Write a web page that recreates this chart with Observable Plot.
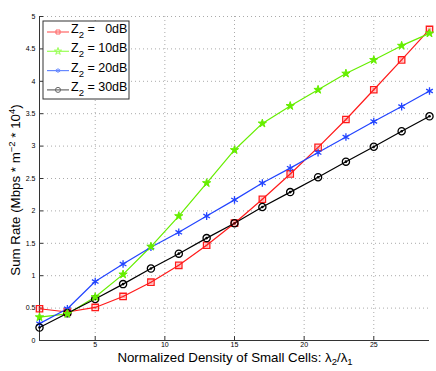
<!DOCTYPE html>
<html><head><meta charset="utf-8">
<script src="https://cdn.jsdelivr.net/npm/d3@7"></script>
<script src="https://cdn.jsdelivr.net/npm/@observablehq/plot@0.6"></script>
<style>body{margin:0;background:#fff}</style>
</head><body><div id="chart"></div>
<script>
const density = [1,3,5,7,9,11,13,15,17,19,21,23,25,27,29];
const z0dB  = [0.49,0.44,0.51,0.68,0.90,1.16,1.47,1.81,2.18,2.57,2.98,3.41,3.87,4.33,4.80];
const z10dB = [0.36,0.41,0.67,1.02,1.45,1.92,2.43,2.94,3.35,3.62,3.87,4.12,4.33,4.55,4.74];
const z20dB = [0.26,0.49,0.91,1.18,1.44,1.67,1.92,2.17,2.43,2.66,2.90,3.14,3.38,3.61,3.85];
const z30dB = [0.20,0.42,0.64,0.87,1.11,1.34,1.58,1.81,2.06,2.29,2.52,2.76,2.99,3.23,3.46];
const seriesNames = ["0dB","10dB","20dB","30dB"];
const seriesLabels = ["  0dB","10dB","20dB","30dB"];
const xTicks = [5,10,15,20,25];
const yTicks = [0,0.5,1,1.5,2,2.5,3,3.5,4,4.5,5];

const colors = ["#ff1a1a","#66ee00","#2244ff","#000000"];
const symbols = ["square","star","asterisk","circle"];
const all = [z0dB,z10dB,z20dB,z30dB];
const data = [];
all.forEach((arr,i)=>arr.forEach((v,j)=>data.push({s:seriesNames[i],x:density[j],y:v})));

const W=436,H=371,mL=39,mR=7,mT=16,mB=31;
const plot = Plot.plot({
  width:W,height:H,marginLeft:mL,marginRight:mR,marginTop:mT,marginBottom:mB,
  style:{fontFamily:"Liberation Sans, Arial, sans-serif",fontSize:"7px",background:"#fff"},
  x:{domain:[1,29],label:null},
  y:{domain:[0,5],label:null},
  color:{domain:seriesNames,range:colors},
  symbol:{domain:seriesNames,range:symbols},
  marks:[
    Plot.gridX(xTicks,{stroke:"#aaa",strokeOpacity:1,strokeDasharray:"1,3"}),
    Plot.gridY(yTicks.filter(d=>d>0),{stroke:"#aaa",strokeOpacity:1,strokeDasharray:"1,3"}),
    Plot.axisX({ticks:xTicks,tickSize:0,tickPadding:2,label:null}),
    Plot.axisY({ticks:yTicks,tickSize:0,tickPadding:4,label:null,tickFormat:d=>String(d)}),
    Plot.ruleX(xTicks,{x:d=>d,y1:0,y2:0.06,stroke:"#333"}),
    Plot.ruleY(yTicks,{y:d=>d,x1:1,x2:1.3,stroke:"#333"}),
    Plot.ruleY([0],{stroke:"#333"}),
    Plot.ruleX([1],{stroke:"#333"}),
    Plot.line(data,{x:"x",y:"y",z:"s",stroke:"s",strokeWidth:1.2}),
    Plot.dot(data.filter(d=>d.s!=="10dB"),{x:"x",y:"y",stroke:"s",symbol:"s",r:3.6,strokeWidth:1.3,fill:"none"}),
    Plot.dot(data.filter(d=>d.s==="30dB"),{x:"x",y:"y",r:1.3,fill:"#000"}),
    Plot.dot(data.filter(d=>d.s==="0dB"),{x:"x",y:"y",symbol:"square",r:2.2,fill:"#ff1a1a",fillOpacity:0.35}),
    Plot.dot(data.filter(d=>d.s==="10dB"),{x:"x",y:"y",symbol:"star",r:2.6,fill:"#66ee00",stroke:"#66ee00",strokeWidth:1})
  ]
});
document.getElementById("chart").appendChild(plot);

const svg = d3.select(plot);
const font = "Liberation Sans, Arial, sans-serif";
// y label
const yl = svg.append("text").attr("transform",`translate(20,190) rotate(-90)`)
  .attr("text-anchor","middle").attr("font-family",font).attr("font-size",13.3).attr("fill","#000");
yl.append("tspan").text("Sum Rate (Mbps * m");
yl.append("tspan").attr("dy",-5).attr("font-size",9.5).text("−2");
yl.append("tspan").attr("dy",5).text(" * 10");
yl.append("tspan").attr("dy",-5).attr("font-size",9.5).text("4");
yl.append("tspan").attr("dy",5).text(")");
// x label
const xl = svg.append("text").attr("x",235).attr("y",362).attr("text-anchor","middle")
  .attr("font-family",font).attr("font-size",13.3).attr("fill","#000");
xl.append("tspan").text("Normalized Density of Small Cells: λ");
xl.append("tspan").attr("dy",3).attr("font-size",9.5).text("2");
xl.append("tspan").attr("dy",-3).text("/λ");
xl.append("tspan").attr("dy",3).attr("font-size",9.5).text("1");
// legend
const lg = svg.append("g");
lg.append("rect").attr("x",43).attr("y",21).attr("width",86).attr("height",78)
  .attr("fill","#fff").attr("stroke","#333").attr("stroke-width",1);
const legendSym = [d3.symbolSquare,d3.symbolStar,d3.symbolAsterisk||d3.symbolCross,d3.symbolCircle];
seriesNames.forEach((n,i)=>{
  const cy = 32 + i*19.3;
  const c = i===3 ? "#666" : (i===0?"#ff6666":i===1?"#99ff55":"#6688ff");
  lg.append("line").attr("x1",47).attr("x2",69).attr("y1",cy).attr("y2",cy).attr("stroke",c).attr("stroke-width",1.2);
  lg.append("path").attr("d",d3.symbol(legendSym[i],i===3?20:16)()).attr("transform",`translate(58,${cy})`)
    .attr("fill","none").attr("stroke",c).attr("stroke-width",1);
  const t = lg.append("text").attr("x",71).attr("y",cy+1).attr("text-anchor","start")
    .attr("font-family",font).attr("font-size",12.5).attr("fill","#000");
  t.append("tspan").text("Z");
  t.append("tspan").attr("dy",5).attr("font-size",9.5).text("2");
  t.append("tspan").attr("dy",-5).style("white-space","pre").text(" = " + seriesLabels[i]);
});
</script>
</body></html>
